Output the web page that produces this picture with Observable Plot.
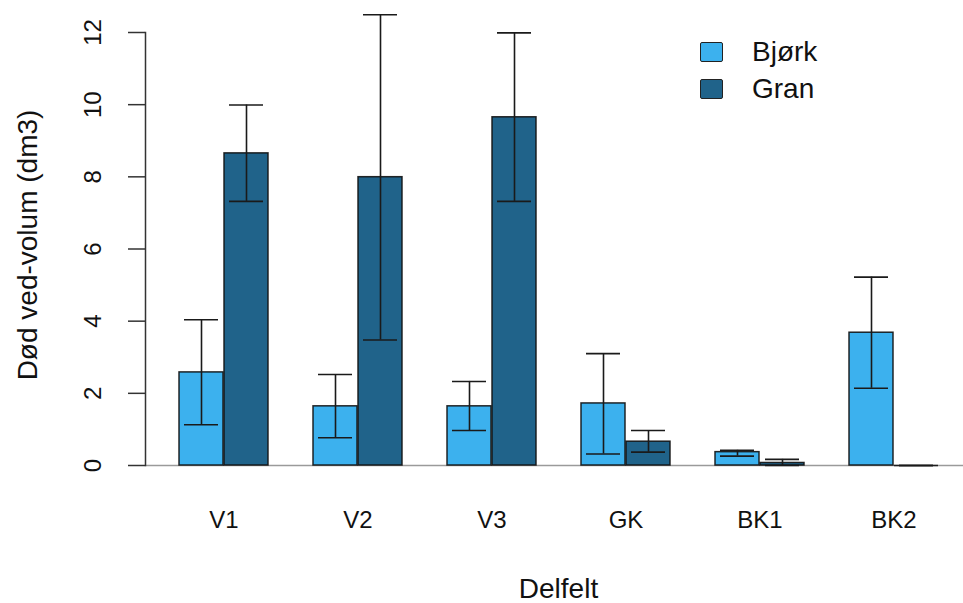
<!DOCTYPE html>
<html>
<head>
<meta charset="utf-8">
<script src="https://cdn.jsdelivr.net/npm/d3@7"></script>
<script src="https://cdn.jsdelivr.net/npm/@observablehq/plot@0.6"></script>
<style>
  html, body { margin: 0; padding: 0; background: #fff; }
  #wrap { position: relative; width: 963px; height: 603px; font-family: "Liberation Sans", Arial, sans-serif; }
  .legend { position: absolute; left: 700px; top: 33px; font-size: 28px; color: #111; }
  .legend .row { display: flex; align-items: center; height: 37px; }
  .legend .sw { width: 21px; height: 18px; border: 1.5px solid #222; border-radius: 2px; margin-right: 29px; box-sizing: content-box; }
</style>
</head>
<body>
<div id="wrap"></div>
<script>
const groups = ["V1", "V2", "V3", "GK", "BK1", "BK2"];
const series = ["Bjørk", "Gran"];
const colors = ["#3cb1ee", "#20638a"];
const bjork   = [2.58, 1.64, 1.64, 1.72, 0.37, 3.68];
const bjorkLo = [1.13, 0.77, 0.97, 0.32, 0.26, 2.14];
const bjorkHi = [4.04, 2.52, 2.33, 3.10, 0.42, 5.22];
const gran    = [8.65, 7.99, 9.65, 0.66, 0.07, 0.00];
const granLo  = [7.32, 3.48, 7.32, 0.37, 0.00, 0.00];
const granHi  = [9.99, 12.49, 11.99, 0.97, 0.17, 0.00];
const yTicks = [0, 2, 4, 6, 8, 10, 12];
const yLabel = "Død ved-volum (dm3)";
const xLabel = "Delfelt";

const rowsB = groups.map((g, i) => ({group: g, value: bjork[i], lo: bjorkLo[i], hi: bjorkHi[i]}));
const rowsG = groups.map((g, i) => ({group: g, value: gran[i], lo: granLo[i], hi: granHi[i]}));

const BW = 90, HALF = BW / 2, CAP = 5;
const barStyle = {stroke: "#111", strokeWidth: 1.5, strokeOpacity: 0.9};
const errStyle = {stroke: "#1a1a1a", strokeWidth: 1.6};

const chart = Plot.plot({
  width: 963,
  height: 603,
  marginLeft: 145,
  marginRight: 0,
  marginTop: 32,
  marginBottom: 138,
  style: {fontFamily: "Liberation Sans, Arial, sans-serif", background: "#fff", color: "#111"},
  x: {type: "band", domain: groups, range: [145, 972], paddingInner: 1/3, paddingOuter: 0.23, align: 0.5, axis: null},
  y: {domain: [0, 12], axis: null},
  marks: [
    Plot.ruleY([0], {stroke: "#9a9a9a", strokeWidth: 1.5}),
    // y axis line and ticks
    Plot.frame({anchor: "left", stroke: "#333", strokeWidth: 1.5}),
    Plot.axisY({ticks: yTicks, tickSize: 17, tickFormat: () => "", stroke: "#333", strokeWidth: 1.5, anchor: "left"}),
    Plot.text(yTicks, {y: d => d, text: d => String(d), frameAnchor: "left", dx: -52, rotate: -90, fontSize: 24, fill: "#111", textAnchor: "middle", lineAnchor: "middle"}),
    // bars
    Plot.barY(rowsB, {x: "group", y: "value", fill: colors[0], insetRight: HALF, ...barStyle}),
    Plot.barY(rowsG, {x: "group", y: "value", fill: colors[1], insetLeft: HALF, ...barStyle}),
    Plot.tickY(rowsG.filter(d => d.value === 0), {x: "group", y: "value", insetLeft: HALF, ...barStyle}),
    // error bars
    Plot.ruleX(rowsB, {x: "group", y1: "lo", y2: "hi", dx: -HALF / 2, ...errStyle}),
    Plot.ruleX(rowsG, {x: "group", y1: "lo", y2: "hi", dx: HALF / 2, ...errStyle}),
    Plot.tickY(rowsB, {x: "group", y: "lo", insetLeft: CAP, insetRight: HALF + CAP, ...errStyle}),
    Plot.tickY(rowsB, {x: "group", y: "hi", insetLeft: CAP, insetRight: HALF + CAP, ...errStyle}),
    Plot.tickY(rowsG, {x: "group", y: "lo", insetLeft: HALF + CAP, insetRight: CAP, ...errStyle}),
    Plot.tickY(rowsG, {x: "group", y: "hi", insetLeft: HALF + CAP, insetRight: CAP, ...errStyle}),
    // x labels
    Plot.text(groups, {x: d => d, frameAnchor: "bottom", dy: 55, fontSize: 24, fill: "#111", lineAnchor: "middle"}),
    Plot.text([xLabel], {frameAnchor: "bottom", dx: 4, dy: 124, fontSize: 28, fill: "#111", lineAnchor: "middle", textAnchor: "middle"}),
    Plot.text([yLabel], {frameAnchor: "left", dx: -117, dy: -4, rotate: -90, fontSize: 28, fill: "#111", textAnchor: "middle", lineAnchor: "middle"})
  ]
});

const wrap = document.getElementById("wrap");
wrap.appendChild(chart);
const legend = document.createElement("div");
legend.className = "legend";
series.forEach((s, i) => {
  const row = document.createElement("div");
  row.className = "row";
  const sw = document.createElement("div");
  sw.className = "sw";
  sw.style.background = colors[i];
  const t = document.createElement("span");
  t.textContent = s;
  row.appendChild(sw);
  row.appendChild(t);
  legend.appendChild(row);
});
wrap.appendChild(legend);
</script>
</body>
</html>
